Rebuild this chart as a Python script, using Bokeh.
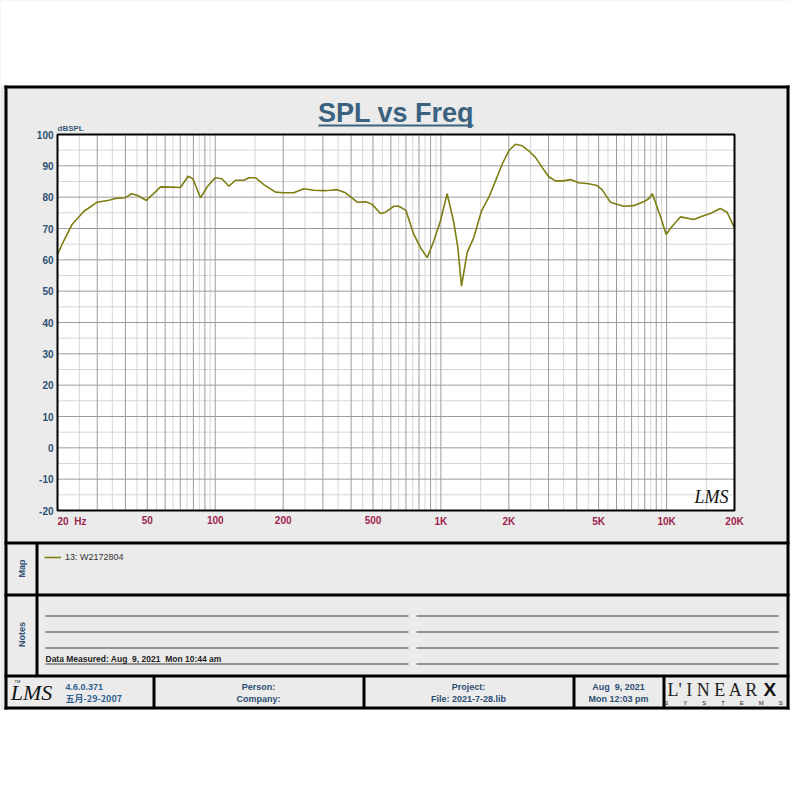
import math
from bokeh.plotting import figure
from bokeh.models import (Range1d, LinearScale, LogScale, Label, Legend, LegendItem)
from bokeh.core.properties import value
from bokeh.embed import file_html
from bokeh.resources import INLINE

# ---------------- data ----------------
freq_hz = [20, 21.3, 23.2, 26.2, 30, 33.8, 36.1, 40, 42.5, 45, 49.4, 52.9, 57.2, 63.3,
           70.1, 75.9, 79.6, 86, 92.1, 100, 107, 115, 123, 134, 141, 151, 164, 185,
           201, 223, 247, 273, 303, 324, 347, 378, 426, 464, 496, 540, 568, 619, 651,
           700, 735, 759, 812, 870, 930, 995, 1066, 1141, 1189, 1234, 1307, 1399,
           1513, 1630, 1746, 1868, 2000, 2139, 2292, 2451, 2624, 2808, 3005, 3216,
           3499, 3747, 4083, 4520, 4922, 5176, 5636, 6456, 7147, 7911, 8330, 8650,
           9388, 9955, 10590, 11513, 13187, 14360, 15640, 17300, 18530, 20000]
spl_db = [61.7, 66.0, 71.3, 75.5, 78.4, 79.0, 79.6, 79.8, 81.1, 80.6, 79.0, 80.9, 83.3, 83.2,
          83.1, 86.7, 85.9, 79.8, 83.3, 86.2, 85.9, 83.5, 85.4, 85.4, 86.2, 86.2, 84.0, 81.6,
          81.4, 81.4, 82.7, 82.2, 82.1, 82.2, 82.4, 81.4, 78.4, 78.5, 77.7, 74.8, 75.2, 77.1, 77.1,
          75.8, 71.0, 68.1, 63.9, 60.7, 66.0, 72.4, 81.1, 71.9, 63.9, 51.6, 62.3, 67.1,
          75.6, 79.9, 85.2, 90.5, 94.8, 96.9, 96.4, 94.8, 92.7, 89.5, 86.5, 85.2,
          85.2, 85.6, 84.6, 84.3, 83.7, 82.4, 78.4, 77.1, 77.3, 78.5, 79.5, 81.1,
          73.9, 68.1, 70.7, 73.7, 72.9, 73.9, 74.8, 76.4, 75.2, 70.2]

freq_min, freq_max = 20, 20000
db_min, db_max = -20, 100
x_tick_values = [50, 100, 200, 500, 1000, 2000, 5000, 10000, 20000]
x_tick_labels = ["50", "100", "200", "500", "1K", "2K", "5K", "10K", "20K"]
x_first_label = "20\u00a0\u00a0Hz"
y_tick_values = [-20, -10, 0, 10, 20, 30, 40, 50, 60, 70, 80, 90, 100]
y_tick_labels = [str(v) for v in y_tick_values]
y_minor_values = [-15, -5, 5, 15, 25, 35, 45, 55, 65, 75, 85, 95]
grid_major_mult = [1, 2, 3, 4, 5, 6, 7, 8, 9]
grid_minor_mult = [1.5, 2.5, 3.5, 4.5, 5.5, 6.5, 7.5, 8.5, 9.5]
decades = [10, 100, 1000, 10000]

title_text = "SPL vs Freq"
y_unit_text = "dBSPL"
series_name = "13: W2172804"
measured_text = "Data Measured: Aug\u00a0\u00a09, 2021\u00a0\u00a0Mon 10:44 am"
version_text = "4.6.0.371"
build_date_text = "五月-29-2007"
person_text = "Person:"
company_text = "Company:"
project_text = "Project:"
file_text = "File: 2021-7-28.lib"
date_text = "Aug\u00a0\u00a09, 2021"
time_text = "Mon 12:03 pm"
brand_text = "L' I N E A R"
brand_mark = "X"
brand_sub = ("\u00a0" * 9).join("SYSTEMS")

# ---------------- layout / styles ----------------
W, H = 790, 710
PL, PR, PT, PB = 57, 734, 134, 510          # plot-area position on the page
FONT = "Liberation Sans"
PANEL = "#ebebeb"
CURVE = "#7d7d12"
BLUE = "#2d4f74"
TITLE_BLUE = "#3b627f"
MAROON = "#9e1f4d"

grid_major = [m * d for d in decades for m in grid_major_mult if freq_min <= m * d <= freq_max]
grid_minor = [m * d for d in decades for m in grid_minor_mult if freq_min <= m * d <= freq_max]

p = figure(width=W, height=H, x_range=Range1d(0, W), y_range=Range1d(H, 0),
           x_axis_location=None, y_axis_location=None, title=None,
           output_backend="svg", toolbar_location=None, min_border=0)
p.background_fill_color = PANEL
p.border_fill_color = PANEL
p.outline_line_color = None
p.grid.visible = False

# chart scales: log frequency / linear dB, placed on the plot area of the sheet
dec_px = (PR - PL) / math.log10(freq_max / freq_min)
db_px = (PB - PT) / (db_max - db_min)
p.extra_x_ranges = {"freq": Range1d(freq_min * 10 ** ((0 - PL) / dec_px),
                                    freq_min * 10 ** ((W - PL) / dec_px))}
p.extra_x_scales = {"freq": LogScale()}
p.extra_y_ranges = {"db": Range1d(db_min - (H - PB) / db_px, db_max + PT / db_px)}
p.extra_y_scales = {"db": LinearScale()}
C = dict(x_range_name="freq", y_range_name="db")

# white page above the form
p.quad(left=[0], right=[W], top=[0], bottom=[85], fill_color="white", line_color=None)

# plot area
p.quad(left=[freq_min], right=[freq_max], bottom=[db_min], top=[db_max],
       fill_color="white", line_color=None, **C)
p.segment(x0=grid_minor, x1=grid_minor, y0=[db_min] * len(grid_minor), y1=[db_max] * len(grid_minor),
          line_color="#d6d6d6", line_width=1, **C)
p.segment(x0=[freq_min] * len(y_minor_values), x1=[freq_max] * len(y_minor_values),
          y0=y_minor_values, y1=y_minor_values, line_color="#d6d6d6", line_width=1, **C)
p.segment(x0=grid_major, x1=grid_major, y0=[db_min] * len(grid_major), y1=[db_max] * len(grid_major),
          line_color="#9c9c9c", line_width=1, **C)
p.segment(x0=[freq_min] * len(y_tick_values), x1=[freq_max] * len(y_tick_values),
          y0=y_tick_values, y1=y_tick_values, line_color="#9c9c9c", line_width=1, **C)

curve = p.line(freq_hz, spl_db, line_color=CURVE, line_width=1.6, **C)

p.quad(left=[freq_min], right=[freq_max], bottom=[db_min], top=[db_max],
       fill_color=None, line_color="black", line_width=2, **C)

# tick labels
p.text(x=x_tick_values, y=[db_min] * len(x_tick_values), text=x_tick_labels, y_offset=5,
       text_font=value(FONT), text_font_style="bold", text_font_size="10px",
       text_color=MAROON, text_align="center", text_baseline="top", **C)
p.text(x=[freq_min], y=[db_min], text=[x_first_label], y_offset=5,
       text_font=value(FONT), text_font_style="bold", text_font_size="10px",
       text_color=MAROON, text_align="left", text_baseline="top", **C)
p.text(x=[freq_min] * len(y_tick_values), y=y_tick_values, text=y_tick_labels, x_offset=-4,
       text_font=value(FONT), text_font_style="bold", text_font_size="10px",
       text_color=BLUE, text_align="right", text_baseline="middle", **C)

# legend in the Map box
legend = Legend(items=[LegendItem(label=series_name, renderers=[curve])],
                location=(44, H - 562), border_line_color=None, background_fill_alpha=0,
                label_text_font=FONT, label_text_font_size="9px", label_text_color="#333333",
                glyph_width=17, glyph_height=10, label_height=10, padding=0, margin=0,
                spacing=0, label_standoff=4)
p.add_layout(legend)

# ---------------- sheet furniture (page coordinates) ----------------
black_boxes = [
    (4, 789, 85, 88), (4, 7, 85, 709), (786, 789, 85, 709), (4, 789, 706, 709),   # frame
    (4, 789, 541, 544), (4, 789, 593, 596), (4, 789, 674, 677),                   # rows
    (35, 38, 542, 676),
    (152, 155, 676, 708), (362, 365, 676, 708), (572, 575, 676, 708), (662, 665, 676, 708),
]
p.quad(left=[b[0] for b in black_boxes], right=[b[1] for b in black_boxes],
       top=[b[2] for b in black_boxes], bottom=[b[3] for b in black_boxes],
       fill_color="black", line_color=None)

note_rows = [615, 631, 647, 663]
p.quad(left=[45] * 4 + [416] * 4, right=[408] * 4 + [778] * 4,
       top=note_rows + note_rows, bottom=[y + 1 for y in note_rows] * 2,
       fill_color="#3a3a3a", line_color=None)

# title underline
p.quad(left=[318], right=[473], top=[124], bottom=[126], fill_color=TITLE_BLUE, line_color=None)


def lab(x, y, text, size="9px", color=BLUE, style="bold", align="left",
        baseline="middle", angle=0.0, font=FONT):
    p.add_layout(Label(x=x, y=y, text=text, text_font=font, text_font_size=size,
                       text_font_style=style, text_color=color, text_align=align,
                       text_baseline=baseline, angle=angle))


lab(395.5, 112.3, title_text, size="27px", color=TITLE_BLUE, align="center")
lab(57, 127.5, y_unit_text, size="8px", color="#3c5c7c")
lab(711, 496, "LMS", size="18px", color="#111111", style="italic", align="center",
    font="Liberation Serif")

lab(21, 568, "Map", align="center", angle=math.pi / 2)
lab(21, 634, "Notes", align="center", angle=math.pi / 2)
lab(45, 658, measured_text, size="8.5px", color="#222222")

lab(31, 692, "LMS", size="22px", color="#111111", style="italic", align="center",
    font="Liberation Serif")
lab(14, 681, "TM", size="4px", color="#111111", style="normal")
lab(65, 686, version_text, color="#2f5f8f")
lab(65, 698, build_date_text, color="#2f5f8f", font="Noto Sans CJK SC")
lab(258, 686, person_text, align="center")
lab(258, 698, company_text, align="center")
lab(468, 686, project_text, align="center")
lab(468, 698, file_text, align="center")
lab(618, 686, date_text, align="center")
lab(618, 698, time_text, align="center")
lab(667, 689, brand_text, size="18px", color="#222222", style="normal",
    font="Liberation Serif")
lab(763, 689, brand_mark, size="19px", color="#111111", style="bold")
lab(723, 702, brand_sub, size="6px", color="#222222", style="normal", align="center")

open("out.html", "w").write(file_html(p, INLINE))
